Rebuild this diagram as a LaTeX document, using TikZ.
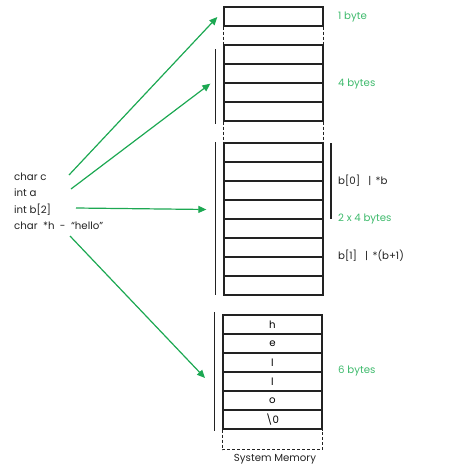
\documentclass[tikz,border=0pt]{standalone}
\usepackage{fontspec}
\setmainfont{Poppins}
\usetikzlibrary{arrows.meta}
\definecolor{arrgreen}{RGB}{28,168,82}
\definecolor{lblgreen}{RGB}{62,186,108}
\definecolor{ink}{RGB}{34,34,34}
\begin{document}
\begin{tikzpicture}[x=1pt, y=-1pt, >={Triangle[length=8pt,width=7pt]},
  cell/.style={draw=ink, line width=1.3pt, minimum width=99pt, minimum height=19pt, inner sep=0pt, font=\fontsize{10.2}{11}\selectfont},
  gap/.style={draw=ink, line width=1pt, dash pattern=on 3pt off 2pt},
  bar/.style={draw=ink, line width=1pt},
  link/.style={draw=arrgreen, line width=1.2pt, ->},
  size/.style={anchor=west, text=lblgreen, inner sep=0pt, font=\fontsize{10.2}{11}\selectfont},
  note/.style={anchor=west, text=ink, inner sep=0pt, font=\fontsize{10.2}{11}\selectfont},
  decl/.style={anchor=west, text=ink, inner sep=0pt, font=\fontsize{10.2}{11}\selectfont}]
\useasboundingbox (0,0) rectangle (448,474);
% memory cells
\node[cell] (c1) at (273.5,16.5) {};
\foreach \i in {1,...,4} {
  \node[cell] (a\i) at (273.5,{45+9.5+19*(\i-1)}) {};
}
\foreach \i in {1,...,8} {
  \node[cell] (b\i) at (273.5,{143+9.5+19*(\i-1)}) {};
}
\foreach \t [count=\i] in {h,e,l,l,o,\textbackslash 0} {
  \node[cell] (h\i) at (272.5,{315+9.5+19*(\i-1)}) {\t};
}
% gaps between blocks
\draw[gap] (c1.south west) -- (a1.north west);
\draw[gap] (c1.south east) -- (a1.north east);
\draw[gap] (a4.south west) -- (b1.north west);
\draw[gap] (a4.south east) -- (b1.north east);
\draw[gap] (h6.south west) -- ++(0,20) -| (h6.south east);
\node[note, anchor=center] (mem) at (275,459) {System Memory};
% brackets
\draw[bar] (215,49) -- (215,124);
\draw[bar] (215,142) -- (215,295);
\draw[bar, line width=1.6pt] (331,143) -- (331,219);
\draw[bar] (214,312) -- (214,431);
% sizes
\node[size] (s1) at (338,17) {1 byte};
\node[size] (s2) at (338,84) {4 bytes};
\node[note] (n1) at (338,181) {b[0] \ \ | \,*b};
\node[size] (s3) at (338,219) {2 x 4 bytes};
\node[note] (n2) at (338,256) {b[1] \ \ | \,*(b+1)};
\node[size] (s4) at (338,371) {6 bytes};
% declarations
\node[decl] (v1) at (14,177) {char c};
\node[decl] (v2) at (14,193) {int a};
\node[decl] (v3) at (14,210) {int b[2]};
\node[decl] (v4) at (14,226) {char \ *h \ - \ “hello”};
\coordinate (p1) at (69,175);
\coordinate (p2) at (71,189);
\coordinate (p3) at (76,208);
\coordinate (p4) at (70,236);
\coordinate (q4) at (205,378);
\draw[link] (p1) -- ([xshift=-6pt,yshift=-0.5pt]c1.west);
\draw[link] (p2) -- ([xshift=-13pt]a2.south west);
\draw[link] (p3) -- ([xshift=-17pt]b4.west);
\draw[link] (p4) -- (q4);
\end{tikzpicture}
\end{document}
